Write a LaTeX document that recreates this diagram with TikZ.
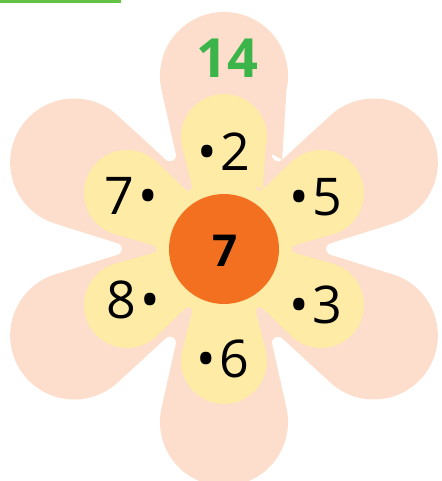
\documentclass[tikz,border=0pt]{standalone}
\usepackage{fontspec}
\setmainfont{Open Sans}

\definecolor{petalpink}{HTML}{FDDDCB}
\definecolor{petalyellow}{HTML}{FEEBA6}
\definecolor{centreorange}{HTML}{F37021}
\definecolor{sumgreen}{HTML}{3BB54A}
\definecolor{rulegreen}{HTML}{62C244}

\newcommand{\ldot}[1]{•\kern4pt#1}
\newcommand{\rdot}[1]{#1\kern4pt•}

\tikzset{
    numlabel/.style={font=\fontsize{52}{52}\selectfont, inner sep=0pt},
    sumlabel/.style={font=\fontsize{54}{54}\selectfont\bfseries, text=sumgreen, inner sep=0pt},
    midlabel/.style={font=\fontsize{44}{44}\selectfont\bfseries, inner sep=0pt}
}

\begin{document}
\begin{tikzpicture}[x=1pt, y=1pt]
            \useasboundingbox (-224,-232) rectangle (217,249);

            % Top rule
            \draw[rulegreen, line width=3pt] (-224,247.5) -- (-103,247.5);

            % Outer petals (lobe r=64 at 173, rounded notches)
            \fill[petalpink] (60:108.07) ++(-47.4:6)
                \foreach \a in {90,150,...,390} {
                    -- ([shift={(\a:173)}]\a-102.6:64)
                    arc[start angle=\a-102.6, end angle=\a+102.6, radius=64]
                    -- ([shift={(\a+30:108.07)}]\a+30-107.4:6)
                    arc[start angle=\a+30-107.4, end angle=\a+30-252.6, radius=6]
                } -- cycle;

            % Inner petals (lobe r=43 at 112)
            \fill[petalyellow] (60:71.7) ++(-45.8:4)
                \foreach \a in {90,150,...,390} {
                    -- ([shift={(\a:112)}]\a-104.2:43)
                    arc[start angle=\a-104.2, end angle=\a+104.2, radius=43]
                    -- ([shift={(\a+30:71.7)}]\a+30-105.8:4)
                    arc[start angle=\a+30-105.8, end angle=\a+30-254.2, radius=4]
                } -- cycle;

            % Centre
            \fill[centreorange] (0,0) circle (55);
            \node[midlabel] (centre) at (0.7,-1.5) {7};

            % Sum
            \node[sumlabel] (sum) at (3,191) {14};

            % Numbers on the petals
            \node[numlabel] (two) at (0,97) {\ldot{2}};
            \node[numlabel] (five) at (92,52) {\ldot{5}};
            \node[numlabel] (three) at (92,-56) {\ldot{3}};
            \node[numlabel] (six) at (-1,-109.5) {\ldot{6}};
            \node[numlabel] (eight) at (-91,-51) {\rdot{8}};
            \node[numlabel] (seven) at (-92.5,53.5) {\rdot{7}};
        \end{tikzpicture}
\end{document}
